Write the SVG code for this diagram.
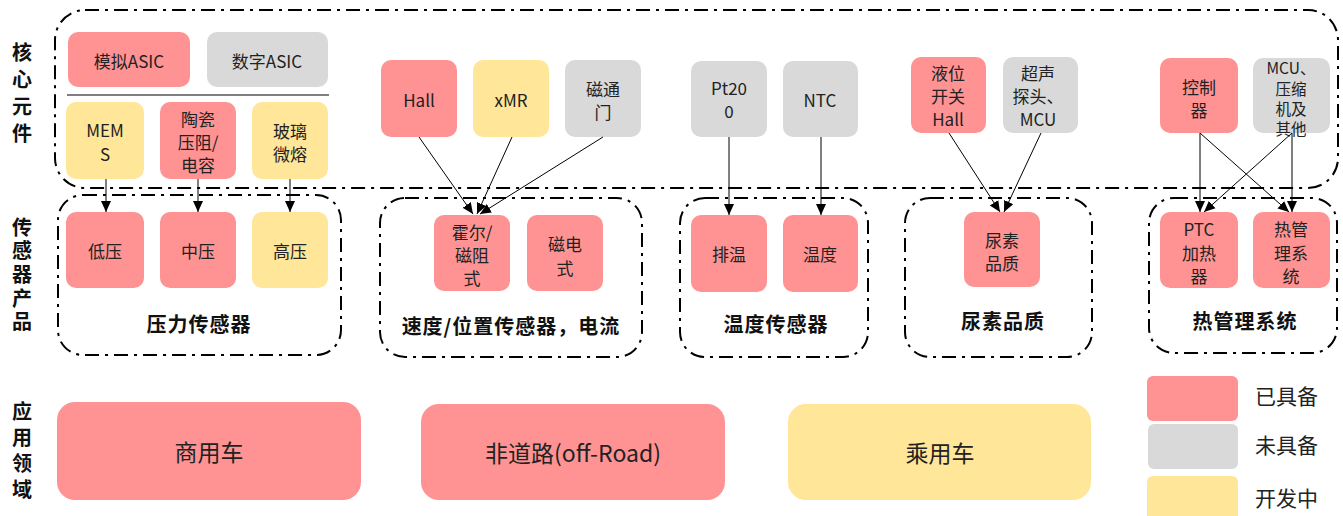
<svg xmlns="http://www.w3.org/2000/svg" width="1343" height="516" viewBox="0 0 1343 516">
<defs>
<marker id="ah" markerUnits="userSpaceOnUse" markerWidth="12" markerHeight="12" viewBox="0 0 12 12" refX="11" refY="6" orient="auto">
<path d="M0,1 L11,6 L0,11 Z" fill="#000"/>
</marker>
</defs>
<style>
.red{fill:#FF9393}
.gray{fill:#D9D9D9}
.yel{fill:#FFE699}
.t{font-family:"Noto Sans CJK SC","Noto Sans",sans-serif;font-size:17px;fill:#222;text-anchor:middle;dominant-baseline:central}
.tm{font-family:"Noto Sans CJK SC","Noto Sans",sans-serif;font-size:15.5px;fill:#222;text-anchor:middle;dominant-baseline:central}
.big{font-family:"Noto Sans CJK SC","Noto Sans",sans-serif;font-size:23px;fill:#222;text-anchor:middle;dominant-baseline:central}
.g{font-family:"Noto Sans CJK SC","Noto Sans",sans-serif;font-size:20px;font-weight:bold;fill:#111;text-anchor:middle;dominant-baseline:central;letter-spacing:1px}
.side{font-family:"Noto Sans CJK SC","Noto Sans",sans-serif;font-size:20px;font-weight:bold;fill:#111;writing-mode:vertical-rl;text-anchor:start}
.leg{font-family:"Noto Sans CJK SC","Noto Sans",sans-serif;font-size:21px;fill:#222;dominant-baseline:central}
.dd{fill:none;stroke:#000;stroke-width:2;stroke-dasharray:14 6 3 6}
.c{fill:none;stroke:#000;stroke-width:1;marker-end:url(#ah)}
</style>

<g id="side-labels">
<text class="side" x="22" y="42" letter-spacing="7">核心元件</text>
<text class="side" x="22" y="217" letter-spacing="3.7">传感器产品</text>
<text class="side" x="22" y="401" letter-spacing="6">应用领域</text>
</g>

<g id="core-group"><rect class="dd" x="55" y="10" width="1283" height="178" rx="30"/></g>
<g id="pressure-group"><rect class="dd" x="58" y="195" width="283" height="160" rx="25"/><text class="g" x="199" y="323">压力传感器</text></g>
<g id="speed-group"><rect class="dd" x="380" y="198" width="262" height="159" rx="25"/><text class="g" x="511" y="325">速度/位置传感器，电流</text></g>
<g id="temp-group"><rect class="dd" x="680" y="198" width="188" height="159" rx="25"/><text class="g" x="776" y="323">温度传感器</text></g>
<g id="urea-group"><rect class="dd" x="905" y="198" width="187" height="159" rx="25"/><text class="g" x="1003" y="320">尿素品质</text></g>
<g id="thermal-group"><rect class="dd" x="1149" y="198" width="188" height="155" rx="25"/><text class="g" x="1245" y="320">热管理系统</text></g>

<g id="n-analog"><rect class="red" x="68" y="32" width="122" height="55" rx="10"/><text class="t" x="129" y="60">模拟ASIC</text></g>
<g id="n-digital"><rect class="gray" x="207" y="32" width="121" height="55" rx="10"/><text class="t" x="267" y="60">数字ASIC</text></g>
<g id="divider"><line x1="67" y1="95" x2="329" y2="95" stroke="#000" stroke-width="1.2"/></g>
<g id="n-mems"><rect class="yel" x="66" y="102" width="78" height="77" rx="10"/><text class="t" x="105" y="129">MEM<tspan x="105" dy="24">S</tspan></text></g>
<g id="n-ceramic"><rect class="red" x="160" y="102" width="76" height="77" rx="10"/><text class="t" x="198" y="118">陶瓷<tspan x="198" dy="23">压阻/</tspan><tspan x="198" dy="23">电容</tspan></text></g>
<g id="n-glass"><rect class="yel" x="252" y="102" width="76" height="77" rx="10"/><text class="t" x="290" y="130">玻璃<tspan x="290" dy="23">微熔</tspan></text></g>

<g id="n-low"><rect class="red" x="66" y="212" width="78" height="76" rx="10"/><text class="t" x="105" y="250">低压</text></g>
<g id="n-mid"><rect class="red" x="160" y="212" width="76" height="76" rx="10"/><text class="t" x="198" y="250">中压</text></g>
<g id="n-high"><rect class="yel" x="252" y="212" width="76" height="76" rx="10"/><text class="t" x="290" y="250">高压</text></g>

<g id="n-hall"><rect class="red" x="381" y="60" width="76" height="77" rx="10"/><text class="t" x="419" y="99">Hall</text></g>
<g id="n-xmr"><rect class="yel" x="473" y="60" width="76" height="77" rx="10"/><text class="t" x="511" y="99">xMR</text></g>
<g id="n-fluxgate"><rect class="gray" x="565" y="60" width="76" height="77" rx="10"/><text class="t" x="603" y="88">磁通<tspan x="603" dy="23">门</tspan></text></g>
<g id="n-hallmr"><rect class="red" x="434" y="215" width="76" height="76" rx="10"/><text class="t" x="472" y="231">霍尔/<tspan x="472" dy="23">磁阻</tspan><tspan x="472" dy="23">式</tspan></text></g>
<g id="n-magelec"><rect class="red" x="527" y="215" width="76" height="76" rx="10"/><text class="t" x="565" y="243">磁电<tspan x="565" dy="24">式</tspan></text></g>

<g id="n-pt200"><rect class="gray" x="691" y="61" width="76" height="76" rx="10"/><text class="t" x="729" y="87">Pt20<tspan x="729" dy="23">0</tspan></text></g>
<g id="n-ntc"><rect class="gray" x="783" y="61" width="75" height="76" rx="10"/><text class="t" x="820" y="99">NTC</text></g>
<g id="n-exhaust"><rect class="red" x="691" y="215" width="76" height="77" rx="10"/><text class="t" x="729" y="253">排温</text></g>
<g id="n-temp"><rect class="red" x="783" y="215" width="75" height="77" rx="10"/><text class="t" x="820" y="253">温度</text></g>

<g id="n-level"><rect class="red" x="911" y="57" width="75" height="76" rx="10"/><text class="t" x="948" y="72">液位<tspan x="948" dy="23">开关</tspan><tspan x="948" dy="23">Hall</tspan></text></g>
<g id="n-ultra"><rect class="gray" x="1003" y="57" width="75" height="76" rx="10"/><text class="t" x="1038" y="72">超声<tspan x="1038" dy="23">探头、</tspan><tspan x="1038" dy="23">MCU</tspan></text></g>
<g id="n-urea"><rect class="red" x="964" y="212" width="76" height="75" rx="10"/><text class="t" x="1002" y="239">尿素<tspan x="1002" dy="23">品质</tspan></text></g>

<g id="n-ctrl"><rect class="red" x="1160" y="58" width="78" height="75" rx="10"/><text class="t" x="1199" y="86">控制<tspan x="1199" dy="23">器</tspan></text></g>
<g id="n-mcu"><rect class="gray" x="1253" y="58" width="77" height="75" rx="10"/><text class="tm" x="1291" y="67">MCU、<tspan x="1291" dy="21">压缩</tspan><tspan x="1291" dy="20">机及</tspan><tspan x="1291" dy="20">其他</tspan></text></g>
<g id="n-ptc"><rect class="red" x="1160" y="212" width="78" height="76" rx="10"/><text class="t" x="1199" y="228">PTC<tspan x="1199" dy="24">加热</tspan><tspan x="1199" dy="23">器</tspan></text></g>
<g id="n-tms"><rect class="red" x="1253" y="212" width="77" height="76" rx="10"/><text class="t" x="1291" y="228">热管<tspan x="1291" dy="24">理系</tspan><tspan x="1291" dy="23">统</tspan></text></g>

<g id="n-commercial"><rect class="red" x="57" y="402" width="304" height="98" rx="18"/><text class="big" x="209" y="451">商用车</text></g>
<g id="n-offroad"><rect class="red" x="421" y="404" width="304" height="96" rx="18"/><text class="big" x="573" y="452">非道路(off-Road)</text></g>
<g id="n-passenger"><rect class="yel" x="788" y="404" width="303" height="96" rx="18"/><text class="big" x="940" y="452">乘用车</text></g>

<g id="legend">
<rect class="red" x="1147" y="376" width="91" height="45" rx="6"/><text class="leg" x="1255" y="395">已具备</text>
<rect class="gray" x="1148" y="424" width="90" height="45" rx="6"/><text class="leg" x="1255" y="444">未具备</text>
<rect class="yel" x="1147" y="476" width="91" height="46" rx="6"/><text class="leg" x="1255" y="497">开发中</text>
</g>

<g id="connectors">
<line class="c" x1="106" y1="179" x2="106" y2="212"/>
<line class="c" x1="198" y1="179" x2="198" y2="212"/>
<line class="c" x1="290" y1="179" x2="290" y2="212"/>
<line class="c" x1="419" y1="137" x2="473" y2="214"/>
<line class="c" x1="512" y1="137" x2="477" y2="214"/>
<line class="c" x1="603" y1="137" x2="480" y2="214"/>
<line class="c" x1="729" y1="137" x2="729" y2="215"/>
<line class="c" x1="821" y1="137" x2="821" y2="215"/>
<line class="c" x1="949" y1="133" x2="1000" y2="212"/>
<line class="c" x1="1041" y1="133" x2="1004" y2="212"/>
<line class="c" x1="1200" y1="133" x2="1200" y2="212"/>
<line class="c" x1="1200" y1="133" x2="1289" y2="212"/>
<line class="c" x1="1292" y1="133" x2="1292" y2="212"/>
<line class="c" x1="1292" y1="133" x2="1204" y2="212"/>
</g>
</svg>
